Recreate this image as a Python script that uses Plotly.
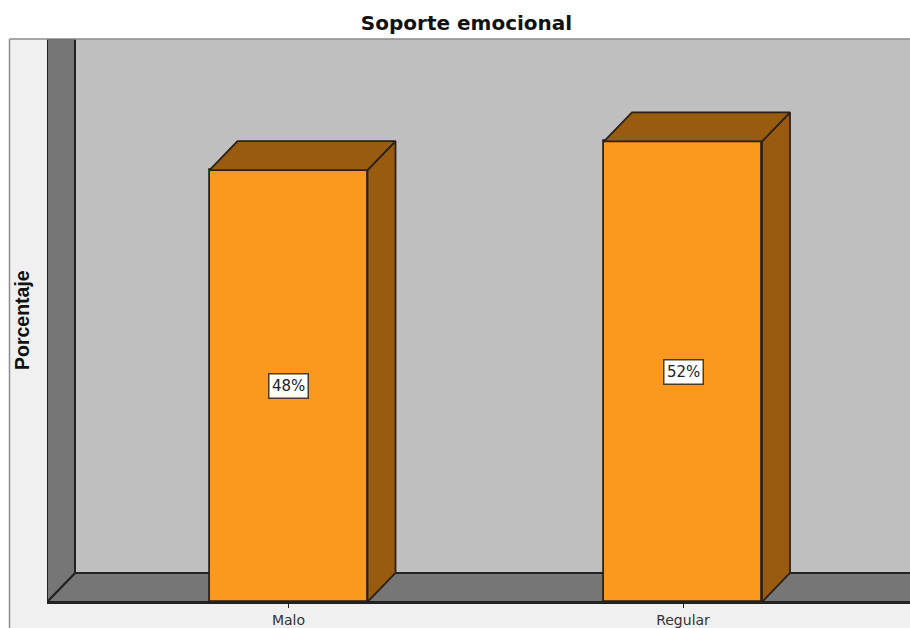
import plotly.graph_objects as go

categories = ["Malo", "Regular"]
values = [48.4, 51.6]
value_labels = ["48%", "52%"]
chart_title = "Soporte emocional"
y_title = "Porcentaje"

W, H = 910, 628
L, R, T, B = 47, 910, 39, 602      # plot rectangle in pixels
UNIT_X = 394.5                     # px per category
UNIT_Y = 8.925                     # px per percent
CENTER0 = 288.5
BAR_W = 158 / UNIT_X
DX = 28 / UNIT_X                   # 3-D depth in axis units
DY = 29 / UNIT_Y

xmin = (L - CENTER0) / UNIT_X
xmax = (R - CENTER0) / UNIT_X
ymax = (B - T) / UNIT_Y

ORANGE = "#FB991E"
BROWN = "#985B10"
EDGE = "#2A2118"
WALL = "#767676"
BACK = "#BFBFBF"
PANEL = "#F0F0F0"
WALL_EDGE = "#222222"

fig = go.Figure()

def poly(xs, ys, fill, edge=EDGE, width=1.8):
    fig.add_trace(go.Scatter(x=xs, y=ys, mode="lines", fill="toself", fillcolor=fill,
                             line=dict(color=edge, width=width), hoverinfo="skip",
                             showlegend=False))

def path_shape(xs, ys):
    d = "M " + " L ".join(f"{x},{y}" for x, y in zip(xs, ys)) + " Z"
    return dict(type="path", xref="x", yref="y", layer="below", path=d, fillcolor=WALL,
                line=dict(color=WALL_EDGE, width=2))

# floor and left wall of the 3-D box (below the bars)
floor = path_shape([xmin, xmin + DX, xmax + 1, xmax + 1], [0, DY, DY, 0])
wall = path_shape([xmin, xmin + DX, xmin + DX, xmin], [0, DY, ymax, ymax])

# front faces
fig.add_trace(go.Bar(x=list(range(len(categories))), y=values, width=BAR_W,
                     marker=dict(color=ORANGE, line=dict(color=EDGE, width=1.8)),
                     hoverinfo="skip", showlegend=False))

# side and top faces of each bar
for i, v in enumerate(values):
    x0, x1 = i - BAR_W / 2, i + BAR_W / 2
    poly([x1, x1 + DX, x1 + DX, x1, x1], [0, DY, v + DY, v, 0], BROWN)
    poly([x0, x0 + DX, x1 + DX, x1, x0], [v, v + DY, v + DY, v, v], BROWN)

annotations = [
    dict(x=i, y=v / 2, xref="x", yref="y", text=lab, showarrow=False,
         font=dict(family="DejaVu Sans", size=15, color="#222222"),
         bgcolor="white", bordercolor="#4A3A20", borderwidth=1.5, borderpad=2.5)
    for i, (v, lab) in enumerate(zip(values, value_labels))
]
annotations.append(dict(x=(22 - L) / (R - L), y=(B - 320) / (B - T), xref="paper", yref="paper",
                        yanchor="middle", xanchor="center", text=f"<b>{y_title}</b>", textangle=-90,
                        showarrow=False,
                        font=dict(family="Liberation Sans", size=19.5, color="#111111")))

fig.update_layout(
    width=W, height=H,
    margin=dict(l=L, r=W - R, t=T, b=H - B, pad=0),
    paper_bgcolor=PANEL,
    plot_bgcolor=BACK,
    bargap=0,
    title=dict(text=f"<b>{chart_title}</b>", x=466.5 / W, xanchor="center", y=1 - 23 / H, yanchor="middle",
               font=dict(family="DejaVu Sans", size=20, color="#111111")),
    xaxis=dict(range=[xmin, xmax], tickmode="array", tickvals=list(range(len(categories))),
               ticktext=categories, ticks="outside", ticklen=4, tickwidth=1, tickcolor="#222222",
               tickfont=dict(family="DejaVu Sans", size=14, color="#333333"),
               showgrid=False, zeroline=False, showline=True, linecolor="#222222", linewidth=1.5),
    yaxis=dict(range=[0, ymax], showticklabels=False, ticks="", showgrid=False, zeroline=False),
    annotations=annotations,
    shapes=[
        floor, wall,
        dict(type="rect", xref="paper", yref="paper", layer="below", x0=-L / (R - L), x1=1.01,
             y0=1, y1=1 + T / (B - T), fillcolor="white", line_width=0),
        dict(type="rect", xref="paper", yref="paper", layer="below", x0=-L / (R - L), x1=-(L - 9) / (R - L),
             y0=-(H - B) / (B - T), y1=1 + T / (B - T), fillcolor="white", line_width=0),
        dict(type="line", xref="paper", yref="paper", layer="above", x0=-(L - 9.5) / (R - L), x1=1.01,
             y0=1, y1=1, line=dict(color="#8C8C8C", width=1.5)),
        dict(type="line", xref="paper", yref="paper", layer="above", x0=-(L - 9.5) / (R - L),
             x1=-(L - 9.5) / (R - L), y0=1, y1=-(H - B) / (B - T), line=dict(color="#8C8C8C", width=1.5)),
    ],
)

fig.write_html("out.html", config=dict(displayModeBar=False),
               post_script="document.body.style.margin='0';document.body.style.overflow='hidden';")
